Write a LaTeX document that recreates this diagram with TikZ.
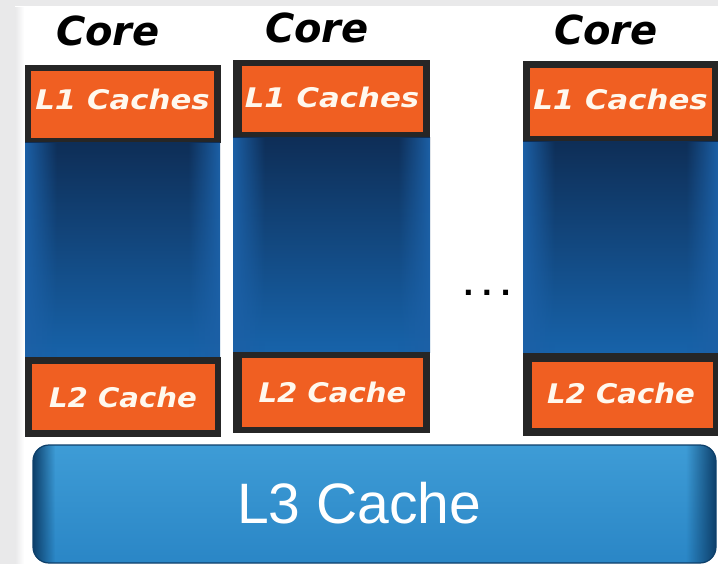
\documentclass[tikz,border=0pt]{standalone}
\usepackage{fontspec}
\usetikzlibrary{fadings}
\newfontfamily\dvs{DejaVu Sans}
\newfontfamily\lib{Liberation Sans}
\definecolor{frame}{HTML}{262626}
\definecolor{orng}{HTML}{F05F22}
\definecolor{cream}{HTML}{FFF8EE}
\definecolor{navy}{HTML}{0E2E57}
\definecolor{navymid}{HTML}{12437A}
\definecolor{bodybot}{HTML}{1763AA}
\definecolor{edgeblue}{HTML}{1C60A6}
\definecolor{lthree}{HTML}{1C74B7}
\definecolor{lthreetop}{HTML}{3E9CD6}
\definecolor{lthreebot}{HTML}{2A86C6}
\definecolor{lthreerim}{HTML}{0D3F6A}
\definecolor{bggray}{HTML}{E9E9EA}
\tikzfading[name=fadeE, left color=transparent!0, right color=transparent!100]
\tikzfading[name=fadeW, left color=transparent!100, right color=transparent!0]
\tikzset{
  darkbox/.style={fill=frame, inner sep=0pt, outer sep=0pt},
  orangebox/.style={fill=orng, inner sep=0pt, outer sep=0pt},
  bodybox/.style={inner sep=0pt, outer sep=0pt, top color=navy, middle color=navymid, bottom color=bodybot},
  corelbl/.style={font=\dvs\bfseries\itshape\fontsize{40}{40}\selectfont, text=black, anchor=base, inner sep=0pt},
  cachelbl/.style={font=\dvs\bfseries\itshape\fontsize{27}{27}\selectfont, text=cream, anchor=base, inner sep=0pt},
  edgeL/.style={edgeblue, path fading=fadeE},
  edgeR/.style={edgeblue, path fading=fadeW},
}
\begin{document}
\begin{tikzpicture}[x=1pt,y=-1pt]
\useasboundingbox (0,0) rectangle (718,564);
% background
\fill[bggray] (0,0) rectangle (718,564);
\fill[white] (15,6) rectangle (718,564);
\fill[bggray, path fading=fadeE] (15,6) rectangle (24,564);

% ---------- column 1 ----------
\node[darkbox, minimum width=196pt, minimum height=78pt] (c1l1) at (123,104) {};
\node[orangebox, minimum width=183pt, minimum height=67pt] (c1l1o) at (122.5,104.5) {};
\node[bodybox, minimum width=195pt, minimum height=215pt] (c1b) at (122.5,250.5) {};
\fill[edgeL] (c1b.north west) rectangle ([xshift=32pt]c1b.south west);
\fill[edgeR] ([xshift=-32pt]c1b.north east) rectangle (c1b.south east);
\node[darkbox, minimum width=196pt, minimum height=80pt] (c1l2) at (123,397) {};
\node[orangebox, minimum width=183pt, minimum height=66pt] (c1l2o) at (123.5,397) {};
\node[corelbl] (c1core) at (108,46) {Core};
\node[cachelbl] (c1l1t) at (122.5,110) {\scalebox{1.14}[1]{L1 Caches}};
\node[cachelbl] (c1l2t) at (123,407) {\scalebox{1.08}[1]{L2 Cache}};

% ---------- column 2 ----------
\node[darkbox, minimum width=197pt, minimum height=78pt] (c2l1) at (331.5,99) {};
\node[orangebox, minimum width=181pt, minimum height=66pt] (c2l1o) at (332.5,99) {};
\node[bodybox, minimum width=197pt, minimum height=214pt] (c2b) at (331.5,245) {};
\fill[edgeL] (c2b.north west) rectangle ([xshift=32pt]c2b.south west);
\fill[edgeR] ([xshift=-32pt]c2b.north east) rectangle (c2b.south east);
\node[darkbox, minimum width=197pt, minimum height=81pt] (c2l2) at (331.5,392.5) {};
\node[orangebox, minimum width=181pt, minimum height=69pt] (c2l2o) at (332.5,392.5) {};
\node[corelbl] (c2core) at (317,43) {Core};
\node[cachelbl] (c2l1t) at (332,108) {\scalebox{1.14}[1]{L1 Caches}};
\node[cachelbl] (c2l2t) at (332.5,402) {\scalebox{1.08}[1]{L2 Cache}};

% ---------- column 3 ----------
\node[darkbox, minimum width=195pt, minimum height=81pt] (c3l1) at (620.5,101.5) {};
\node[orangebox, minimum width=182pt, minimum height=68pt] (c3l1o) at (621,102) {};
\node[bodybox, minimum width=195pt, minimum height=211pt] (c3b) at (620.5,247.5) {};
\fill[edgeL] (c3b.north west) rectangle ([xshift=32pt]c3b.south west);
\fill[edgeR] ([xshift=-32pt]c3b.north east) rectangle (c3b.south east);
\node[darkbox, minimum width=195pt, minimum height=83pt] (c3l2) at (620.5,394.5) {};
\node[orangebox, minimum width=181pt, minimum height=66pt] (c3l2o) at (622,395) {};
\node[corelbl] (c3core) at (606,45) {Core};
\node[cachelbl] (c3l1t) at (620.5,110) {\scalebox{1.14}[1]{L1 Caches}};
\node[cachelbl] (c3l2t) at (621,403) {\scalebox{1.08}[1]{L2 Cache}};

% dots
\node[anchor=base, inner sep=0pt, font=\dvs\bfseries\fontsize{28}{28}\selectfont] (dots) at (487,296) {.\hspace{8pt}.\hspace{8pt}.};

% ---------- L3 ----------
\node[inner sep=0pt, outer sep=0pt, rounded corners=16pt, minimum width=683pt, minimum height=118pt,
      top color=lthreetop, middle color=lthree, bottom color=lthreebot] (l3) at (374.5,504) {};
\begin{scope}
  \clip[rounded corners=16pt] (l3.north west) rectangle (l3.south east);
  \fill[lthreerim, path fading=fadeE] (l3.north west) rectangle ([xshift=22pt]l3.south west);
  \fill[lthreerim, path fading=fadeW] ([xshift=-30pt]l3.north east) rectangle (l3.south east);
\end{scope}
\draw[lthreerim, line width=1.2pt, rounded corners=16pt] (l3.north west) rectangle (l3.south east);
\node[anchor=base, inner sep=0pt, text=white, font=\lib\fontsize{57}{57}\selectfont] (l3t) at (359,523) {L3 Cache};
\end{tikzpicture}
\end{document}
